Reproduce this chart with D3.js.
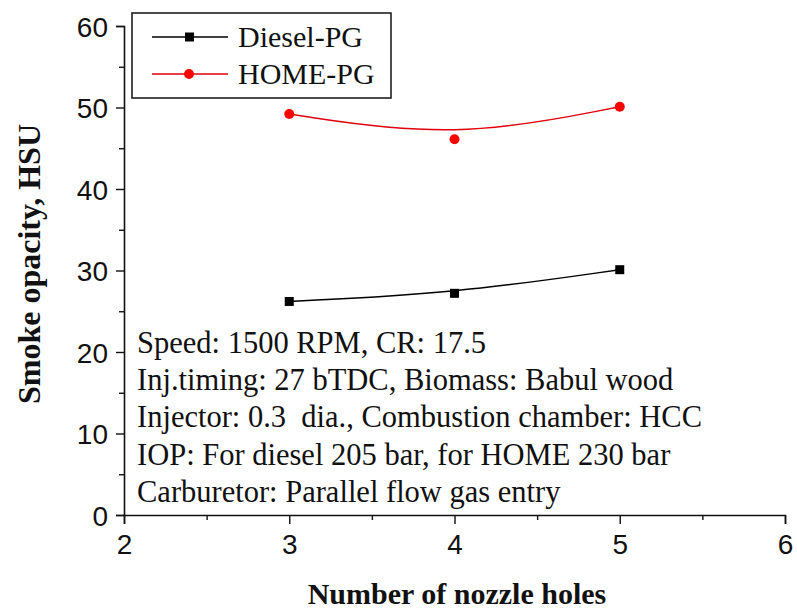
<!DOCTYPE html>
<meta charset="utf-8">
<script src="https://d3js.org/d3.v7.min.js"></script>
<style>
  body { margin: 0; background: #fff; }
  .tick-label { font-family: "Liberation Sans", Arial, sans-serif; font-size: 28px; fill: #111; }
  .serif { font-family: "Liberation Serif", "Times New Roman", serif; fill: #111; }
</style>
<body></body>
<script>
// data
var holes = [3, 4, 5];
var dieselPG = [26.2, 27.2, 30.1];
var homePG = [49.2, 46.1, 50.1];
var seriesNames = ["Diesel-PG", "HOME-PG"];
var xTicks = [2, 3, 4, 5, 6];
var yTicks = [0, 10, 20, 30, 40, 50, 60];
var notes = [
  "Speed: 1500 RPM, CR: 17.5",
  "Inj.timing: 27 bTDC, Biomass: Babul wood",
  "Injector: 0.3  dia., Combustion chamber: HCC",
  "IOP: For diesel 205 bar, for HOME 230 bar",
  "Carburetor: Parallel flow gas entry"
];

var width = 797, height = 609;
var svg = d3.select("body").append("svg")
    .attr("width", width)
    .attr("height", height);

var x = d3.scaleLinear().domain([2, 6]).range([124, 785]);
var y = d3.scaleLinear().domain([0, 60]).range([515, 26]);

// axes
var xAxis = svg.append("g")
    .attr("transform", "translate(0," + y(0) + ")")
    .call(d3.axisBottom(x).tickValues(xTicks).tickSize(9).tickPadding(8).tickFormat(d3.format("d")));
xAxis.selectAll(".tick text").attr("class", "tick-label").attr("dy", "0.78em");
var xMinor = svg.append("g")
    .attr("transform", "translate(0," + y(0) + ")")
    .call(d3.axisBottom(x).tickValues([2.5, 3.5, 4.5, 5.5]).tickSize(5).tickFormat(""));
xMinor.select(".domain").remove();

var yAxis = svg.append("g")
    .attr("transform", "translate(" + x(2) + ",0)")
    .call(d3.axisLeft(y).tickValues(yTicks).tickSize(8).tickPadding(8));
yAxis.selectAll(".tick text").attr("class", "tick-label").attr("dy", "0.36em");
var yMinor = svg.append("g")
    .attr("transform", "translate(" + x(2) + ",0)")
    .call(d3.axisLeft(y).tickValues([5, 15, 25, 35, 45, 55]).tickSize(5).tickFormat(""));
yMinor.select(".domain").remove();

svg.selectAll(".domain").attr("stroke", "#111").attr("stroke-width", 1.6);
svg.selectAll(".tick line").attr("stroke", "#111").attr("stroke-width", 1.4);

// axis titles
svg.append("text")
    .attr("class", "serif")
    .attr("x", 457).attr("y", 604)
    .attr("text-anchor", "middle")
    .attr("font-size", 30).attr("font-weight", "bold")
    .text("Number of nozzle holes");
svg.append("text")
    .attr("class", "serif")
    .attr("transform", "translate(40,264) rotate(-90)")
    .attr("text-anchor", "middle")
    .attr("font-size", 32).attr("font-weight", "bold")
    .text("Smoke opacity, HSU");

// series
var line = d3.line()
    .x(function(d) { return x(d[0]); })
    .y(function(d) { return y(d[1]); })
    .curve(d3.curveBasis);

var diesel = d3.zip(holes, dieselPG);
var home = d3.zip(holes, homePG);

svg.append("path").datum(diesel)
    .attr("d", line).attr("fill", "none")
    .attr("stroke", "#000").attr("stroke-width", 1.5);
svg.append("path").datum(home)
    .attr("d", line).attr("fill", "none")
    .attr("stroke", "#e0000b").attr("stroke-width", 1.5);

svg.selectAll("rect.pt").data(diesel).enter().append("rect")
    .attr("class", "pt")
    .attr("x", function(d) { return x(d[0]) - 4.5; })
    .attr("y", function(d) { return y(d[1]) - 4.5; })
    .attr("width", 9).attr("height", 9)
    .attr("fill", "#000");
svg.selectAll("circle.pt").data(home).enter().append("circle")
    .attr("class", "pt")
    .attr("cx", function(d) { return x(d[0]); })
    .attr("cy", function(d) { return y(d[1]); })
    .attr("r", 5)
    .attr("fill", "#f00");

// legend
var legend = svg.append("g");
legend.append("rect")
    .attr("x", 132).attr("y", 13)
    .attr("width", 259).attr("height", 85)
    .attr("fill", "#fff").attr("stroke", "#111").attr("stroke-width", 1.5);
var colors = ["#000", "#e0000b"];
seriesNames.forEach(function(name, i) {
  var ly = 37 + i * 37;
  legend.append("line")
      .attr("x1", 152).attr("x2", 228)
      .attr("y1", ly).attr("y2", ly)
      .attr("stroke", colors[i]).attr("stroke-width", 1.5);
  if (i === 0) {
    legend.append("rect").attr("x", 185).attr("y", ly - 4.5)
        .attr("width", 9).attr("height", 9).attr("fill", "#000");
  } else {
    legend.append("circle").attr("cx", 189).attr("cy", ly).attr("r", 5).attr("fill", "#f00");
  }
  legend.append("text")
      .attr("class", "serif")
      .attr("x", 238).attr("y", ly + 10)
      .attr("font-size", 30)
      .text(name);
});

// annotation block
svg.selectAll("text.note").data(notes).enter().append("text")
    .attr("class", "serif note")
    .attr("x", 137)
    .attr("y", function(d, i) { return 353 + i * 37.2; })
    .attr("font-size", 30.5)
    .attr("xml:space", "preserve")
    .style("white-space", "pre")
    .text(function(d) { return d; });
</script>
</html>
